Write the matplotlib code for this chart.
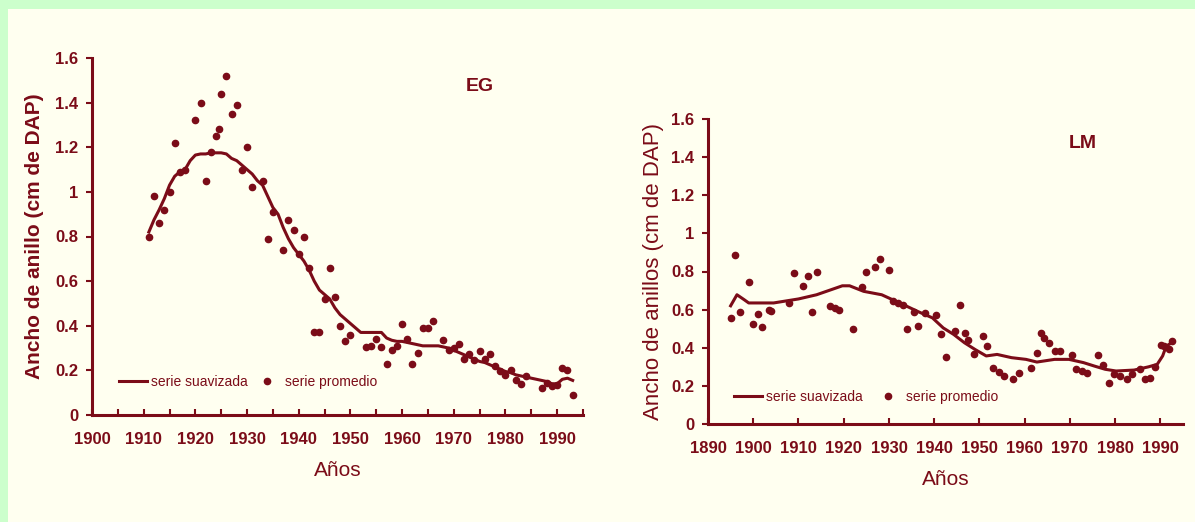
import matplotlib
matplotlib.use("Agg")
import matplotlib.pyplot as plt
from matplotlib.patches import Rectangle
from matplotlib.ticker import MultipleLocator

RED = "#7b0c18"
plt.rcParams['font.family'] = ['Liberation Sans', 'DejaVu Sans']

# --- EG: mean series (points) and smoothed series (line)
eg_years = [1911, 1912, 1913, 1914, 1915, 1916, 1917, 1918, 1920, 1921, 1922,
            1923, 1924, 1924.5, 1925, 1926, 1927, 1928, 1929, 1930, 1931, 1933,
            1934, 1935, 1937, 1938, 1939, 1940, 1941, 1942, 1943, 1944, 1945,
            1946, 1947, 1948, 1949, 1950, 1953, 1954, 1955, 1956, 1957, 1958,
            1959, 1960, 1961, 1962, 1963, 1964, 1965, 1966, 1968, 1969, 1970,
            1971, 1972, 1973, 1974, 1975, 1976, 1977, 1978, 1979, 1980, 1981,
            1982, 1983, 1984, 1987, 1988, 1989, 1990, 1991, 1992, 1993]
eg_mean = [0.80, 0.98, 0.86, 0.92, 1.00, 1.22, 1.09, 1.10, 1.32, 1.40, 1.05,
           1.18, 1.25, 1.28, 1.44, 1.52, 1.35, 1.39, 1.10, 1.20, 1.02, 1.05,
           0.79, 0.91, 0.74, 0.875, 0.83, 0.72, 0.80, 0.66, 0.37, 0.37, 0.52,
           0.66, 0.53, 0.40, 0.33, 0.36, 0.305, 0.31, 0.34, 0.305, 0.23, 0.29,
           0.31, 0.41, 0.34, 0.23, 0.28, 0.39, 0.39, 0.42, 0.335, 0.29, 0.30,
           0.32, 0.25, 0.275, 0.245, 0.285, 0.25, 0.275, 0.22, 0.195, 0.18, 0.20,
           0.155, 0.14, 0.175, 0.12, 0.145, 0.13, 0.135, 0.21, 0.20, 0.09]

eg_smooth_years = list(range(1911, 1994))
eg_smooth = [0.82, 0.875, 0.92, 0.97, 1.03, 1.07, 1.09, 1.10, 1.14, 1.165,
             1.17, 1.17, 1.175, 1.175, 1.175, 1.17, 1.15, 1.14, 1.12, 1.10,
             1.08, 1.05, 1.03, 0.98, 0.93, 0.90, 0.84, 0.79, 0.75, 0.72,
             0.69, 0.65, 0.60, 0.56, 0.54, 0.52, 0.48, 0.45, 0.43, 0.41,
             0.39, 0.37, 0.37, 0.37, 0.37, 0.37, 0.345, 0.335, 0.33, 0.33,
             0.325, 0.32, 0.315, 0.31, 0.31, 0.31, 0.31, 0.305, 0.30, 0.29,
             0.28, 0.27, 0.26, 0.25, 0.24, 0.235, 0.225, 0.215, 0.205, 0.195,
             0.19, 0.18, 0.175, 0.17, 0.165, 0.16, 0.155, 0.15, 0.14, 0.14,
             0.16, 0.165, 0.155]

# --- LM
lm_years = [1895, 1896, 1897, 1899, 1900, 1901, 1902, 1903.5, 1904, 1908, 1909,
            1911, 1912, 1913, 1914, 1917, 1918, 1919, 1922, 1924, 1925, 1927,
            1928, 1930, 1931, 1932, 1933, 1934, 1935.6, 1936.5, 1938, 1940.4,
            1941.6, 1942.6, 1944.7, 1945.8, 1946.7, 1947.5, 1948.7, 1950.7,
            1951.7, 1953.1, 1954.3, 1955.5, 1957.5, 1958.7, 1961.5, 1962.7,
            1963.5, 1964.3, 1965.4, 1966.6, 1967.8, 1970.5, 1971.4, 1972.6,
            1973.8, 1976.2, 1977.4, 1978.6, 1979.8, 1981, 1982.6, 1983.8,
            1985.4, 1986.5, 1987.7, 1988.9, 1990.1, 1990.9, 1991.9, 1992.5]
lm_mean = [0.557, 0.887, 0.59, 0.744, 0.527, 0.577, 0.51, 0.60, 0.595, 0.635, 0.79,
           0.725, 0.774, 0.586, 0.797, 0.617, 0.61, 0.597, 0.496, 0.718, 0.80, 0.826,
           0.864, 0.81, 0.643, 0.635, 0.625, 0.496, 0.59, 0.513, 0.583, 0.574,
           0.47, 0.353, 0.49, 0.623, 0.48, 0.443, 0.365, 0.46,
           0.409, 0.296, 0.273, 0.252, 0.235, 0.266, 0.296, 0.374,
           0.478, 0.452, 0.426, 0.383, 0.383, 0.36, 0.287, 0.278,
           0.27, 0.36, 0.308, 0.217, 0.261, 0.252, 0.235, 0.261,
           0.287, 0.238, 0.243, 0.30, 0.417, 0.409, 0.391, 0.435]

lm_smooth_years = [1895, 1896.4, 1898, 1899, 1904.5, 1910, 1914, 1919.7, 1921.3,
                   1924.4, 1928.4, 1930.8, 1934, 1936.4, 1939.6, 1942, 1944.3,
                   1946.7, 1949.1, 1951.5, 1953.9, 1957.1, 1960.3, 1962.7, 1966.6,
                   1969.8, 1973, 1975.4, 1977.8, 1980.2, 1984.2, 1987.4, 1989.3,
                   1990.5, 1991.3, 1992.5]
lm_smooth = [0.62, 0.678, 0.652, 0.635, 0.635, 0.656, 0.678, 0.725, 0.725,
             0.696, 0.678, 0.652, 0.617, 0.59, 0.557, 0.504, 0.47,
             0.426, 0.39, 0.357, 0.365, 0.348, 0.339, 0.325, 0.339,
             0.339, 0.322, 0.304, 0.287, 0.278, 0.283, 0.30, 0.313,
             0.357, 0.409, 0.426]

y_ticks = [0, 0.2, 0.4, 0.6, 0.8, 1.0, 1.2, 1.4, 1.6]
y_tick_labels = ['0', '0.2', '0.4', '0.6', '0.8', '1', '1.2', '1.4', '1.6']

fig = plt.figure(figsize=(11.95, 5.22), dpi=100, facecolor='#ccffcc')
fig.patches.append(Rectangle((8 / 1195, 0), 1, 1 - 9 / 522, transform=fig.transFigure,
                             facecolor='#fffff0', edgecolor='none', zorder=-10))


def style(ax, xlim, xmajor, xminor):
    ax.set_facecolor('none')
    for s in ['top', 'right']:
        ax.spines[s].set_visible(False)
    for s in ['left', 'bottom']:
        ax.spines[s].set_color(RED)
        ax.spines[s].set_linewidth(2.2)
    ax.set_xlim(*xlim)
    ax.set_ylim(0, 1.6)
    ax.set_yticks(y_ticks)
    ax.set_yticklabels(y_tick_labels)
    ax.xaxis.set_major_locator(MultipleLocator(xmajor))
    if xminor:
        ax.xaxis.set_minor_locator(MultipleLocator(xminor))
    ax.tick_params(axis='y', direction='out', length=4, width=1.5, color=RED,
                   labelcolor=RED, labelsize=12, pad=6)
    ax.tick_params(axis='x', which='both', direction='in', length=4, width=1.5,
                   color=RED, labelcolor=RED, labelsize=12, pad=12)
    for lab in ax.get_xticklabels() + ax.get_yticklabels():
        lab.set_fontweight('bold')


# Left panel: EG
ax1 = fig.add_axes([92 / 1195, 1 - 415 / 522, 491 / 1195, 357 / 522])
style(ax1, (1900, 1995), 10, 5)
ax1.plot(eg_smooth_years, eg_smooth, color=RED, lw=2.2, label='serie suavizada', zorder=3)
ax1.plot(eg_years, eg_mean, 'o', color=RED, ms=4.5, lw=0, label='serie promedio', zorder=4)
ax1.text(0.79, 0.92, 'EG', transform=ax1.transAxes, fontsize=14, fontweight='bold',
         color=RED, ha='center', va='center')
ax1.set_ylabel('Ancho de anillo (cm de DAP)', fontsize=15, fontweight='bold', color=RED,
               labelpad=8)
ax1.set_xlabel('Años', fontsize=15, color=RED, labelpad=10)
ax1.legend(loc='lower left', bbox_to_anchor=(0.055, 0.072), frameon=False, ncol=2,
           fontsize=10, labelcolor=RED, handlelength=2, handletextpad=0.3,
           columnspacing=0.4, borderpad=0, borderaxespad=0)

# Right panel: LM
ax2 = fig.add_axes([708 / 1195, 1 - 424 / 522, 475 / 1195, 305 / 522])
style(ax2, (1890, 1995), 10, None)
ax2.plot(lm_smooth_years, lm_smooth, color=RED, lw=2.2, label='serie suavizada', zorder=3)
ax2.plot(lm_years, lm_mean, 'o', color=RED, ms=4.5, lw=0, label='serie promedio', zorder=4)
ax2.text(0.79, 0.92, 'LM', transform=ax2.transAxes, fontsize=14, fontweight='bold',
         color=RED, ha='center', va='center')
ax2.set_ylabel('Ancho de anillos (cm de DAP)', fontsize=16, color=RED, labelpad=5)
ax2.set_xlabel('Años', fontsize=15, color=RED, labelpad=10)
ax2.legend(loc='lower left', bbox_to_anchor=(0.055, 0.065), frameon=False, ncol=2,
           fontsize=10, labelcolor=RED, handlelength=2, handletextpad=0.3,
           columnspacing=0.8, borderpad=0, borderaxespad=0)

fig.savefig('out.png', dpi=100, facecolor=fig.get_facecolor())
